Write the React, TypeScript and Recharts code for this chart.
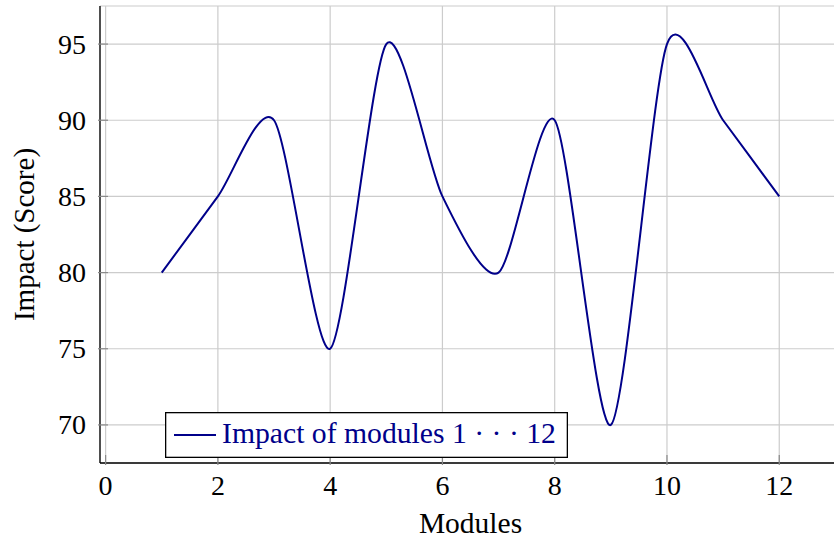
import { LineChart, Line, XAxis, YAxis, CartesianGrid, Legend } from "recharts";

// data
const modules = [1, 2, 3, 4, 5, 6, 7, 8, 9, 10, 11, 12];
const impact = [80, 85, 90, 75, 95, 85, 80, 90, 70, 95, 90, 85];
const xTicks = [0, 2, 4, 6, 8, 10, 12];
const yTicks = [70, 75, 80, 85, 90, 95];

const data = modules.map((m, i) => ({ module: m, impact: impact[i] }));

const NAVY = "#00008a";
const FONT = "'Liberation Serif', 'Times New Roman', serif";
const TICK_MARK = "#8a8a8a";
const GRID = "#cccccc";

// pgfplots-style "smooth" (cardinal spline, open ends)
const K = 0.13;
const pgfSmooth = (context: any) => {
  let pts: number[][] = [];
  return {
    areaStart() {},
    areaEnd() {},
    lineStart() {
      pts = [];
    },
    point(x: number, y: number) {
      pts.push([+x, +y]);
    },
    lineEnd() {
      const n = pts.length;
      if (!n) return;
      context.moveTo(pts[0][0], pts[0][1]);
      for (let i = 0; i < n - 1; i++) {
        const a = pts[i];
        const b = pts[i + 1];
        const prev = i > 0 ? pts[i - 1] : null;
        const next = i + 2 < n ? pts[i + 2] : null;
        const c1 = prev ? [a[0] + K * (b[0] - prev[0]), a[1] + K * (b[1] - prev[1])] : a;
        const c2 = next ? [b[0] - K * (next[0] - a[0]), b[1] - K * (next[1] - a[1])] : b;
        context.bezierCurveTo(c1[0], c1[1], c2[0], c2[1], b[0], b[1]);
      }
    },
  };
};

// ── tick renderers (inward tick marks + labels) ──
const BottomTick = ({ x, y, payload }: any) => (
  <g>
    <line x1={x} y1={y} x2={x} y2={y - 10} stroke={TICK_MARK} strokeWidth={1.2} />
    <text x={x} y={y + 30} textAnchor="middle" fontSize={28} fontFamily={FONT} fill="#000">
      {payload.value}
    </text>
  </g>
);

const TopTick = ({ x, y }: any) => (
  <line x1={x} y1={y} x2={x} y2={y + 10} stroke={TICK_MARK} strokeWidth={1.2} />
);

const LeftTick = ({ x, y, payload }: any) => (
  <g>
    <line x1={x} y1={y} x2={x + 10} y2={y} stroke={TICK_MARK} strokeWidth={1.2} />
    <text x={x - 12} y={y + 9.5} textAnchor="end" fontSize={28} fontFamily={FONT} fill="#000">
      {payload.value}
    </text>
  </g>
);

const RightTick = ({ x, y }: any) => (
  <line x1={x} y1={y} x2={x - 10} y2={y} stroke={TICK_MARK} strokeWidth={1.2} />
);

const LegendBox = () => (
  <svg width={403} height={46} style={{ display: "block" }}>
    <rect x={0.65} y={0.65} width={401.7} height={44.7} fill="#fff" stroke="#000" strokeWidth={1.3} />
    <line x1={9} y1={23} x2={51} y2={23} stroke={NAVY} strokeWidth={2} />
    <text x={57} y={31} fontSize={29.7} fontFamily={FONT} fill={NAVY}>
      Impact of modules 1 · · · 12
    </text>
  </svg>
);

export default function App() {
  return (
    <div
      style={{
        position: "fixed",
        left: 0,
        top: 0,
        width: 834,
        height: 542,
        overflow: "hidden",
        background: "#fff",
      }}
    >
      <LineChart width={845} height={542} data={data} margin={{ top: 6, right: 4, bottom: 0, left: 0 }}>
        <CartesianGrid stroke={GRID} strokeWidth={1.2} />
        <XAxis
          dataKey="module"
          type="number"
          domain={[-0.1, 13.1]}
          ticks={xTicks}
          allowDataOverflow
          height={79}
          tickSize={0}
          tickLine={false}
          tick={<BottomTick />}
          axisLine={{ stroke: "#000", strokeWidth: 1.3 }}
          label={({ viewBox }: any) => (
            <text
              x={viewBox.x + viewBox.width / 2}
              y={viewBox.y + 70}
              textAnchor="middle"
              fontSize={29.5}
              fontFamily={FONT}
              fill="#000"
            >
              Modules
            </text>
          )}
        />
        <XAxis
          xAxisId="top"
          orientation="top"
          dataKey="module"
          type="number"
          domain={[-0.1, 13.1]}
          ticks={xTicks}
          allowDataOverflow
          height={0}
          tickSize={0}
          tickLine={false}
          tick={<TopTick />}
          axisLine={{ stroke: "#000", strokeWidth: 1.3 }}
        />
        <YAxis
          type="number"
          domain={[67.5, 97.5]}
          ticks={yTicks}
          allowDataOverflow
          width={100}
          tickSize={0}
          tickLine={false}
          tick={<LeftTick />}
          axisLine={{ stroke: "#000", strokeWidth: 1.3 }}
          label={({ viewBox }: any) => (
            <text
              x={34}
              y={viewBox.y + viewBox.height / 2}
              transform={`rotate(-90, 34, ${viewBox.y + viewBox.height / 2})`}
              textAnchor="middle"
              fontSize={29}
              fontFamily={FONT}
              fill="#000"
            >
              Impact (Score)
            </text>
          )}
        />
        <YAxis
          yAxisId="right"
          orientation="right"
          type="number"
          domain={[67.5, 97.5]}
          ticks={yTicks}
          allowDataOverflow
          width={0}
          tickSize={0}
          tickLine={false}
          tick={<RightTick />}
          axisLine={{ stroke: "#000", strokeWidth: 1.3 }}
        />
        <Legend
          layout="horizontal"
          verticalAlign="middle"
          align="center"
          content={() => <LegendBox />}
          wrapperStyle={{ left: 165, top: 412, width: 403, height: 46 }}
        />
        <Line
          dataKey="impact"
          name="Impact of modules 1 · · · 12"
          type={pgfSmooth as any}
          stroke={NAVY}
          strokeWidth={2}
          dot={false}
          activeDot={false}
          isAnimationActive={false}
        />
      </LineChart>
    </div>
  );
}
